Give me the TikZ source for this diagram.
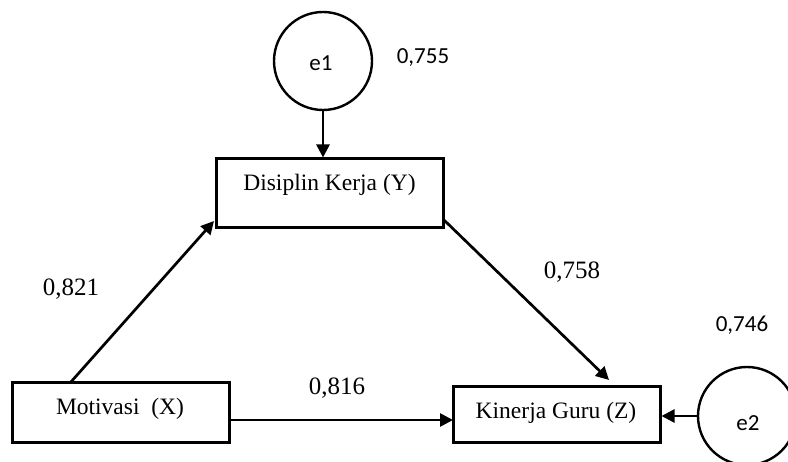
\documentclass[tikz,border=0pt]{standalone}
\usepackage{fontspec}
\setmainfont{Liberation Serif}
\newfontfamily\calfont{Carlito}
\usetikzlibrary{arrows.meta}
\begin{document}
\begin{tikzpicture}[x=1pt,y=-1pt,
  box/.style={draw, line width=3pt, rectangle, inner sep=0pt},
  boxtext/.style={font=\fontsize{23.5}{26}\selectfont, inner sep=0pt},
  err/.style={draw, line width=2.4pt, circle, minimum size=98pt, inner sep=0pt},
  coef/.style={font=\fontsize{25}{28}\selectfont, inner sep=0pt},
  coefsans/.style={font=\calfont\fontsize{23}{25}\selectfont, inner sep=0pt},
  arr/.style={line width=2.7pt, -{Triangle[length=13pt,width=13pt]}}]
\useasboundingbox (0,0) rectangle (788,462);
\clip (0,0) rectangle (788,462);
\fill[white] (0,0) rectangle (788,462);
% nodes
\node[err] (e1) at (323,61) {};
\node[coefsans] (e1t) at (321,63) {e1};
\node[box, minimum width=227pt, minimum height=69pt] (Y) at (329.5,193.5) {};
\node[boxtext] (Yt) at (329.5,185) {Disiplin Kerja (Y)};
\node[box, minimum width=217pt, minimum height=60pt] (X) at (120.5,413) {};
\node[boxtext] (Xt) at (120,409) {Motivasi~~(X)};
\node[box, minimum width=207pt, minimum height=56pt] (Z) at (556.5,415) {};
\node[boxtext] (Zt) at (556,413) {Kinerja Guru (Z)};
\node[err] (e2) at (747,416) {};
\node[coefsans] (e2t) at (748,423) {e2};
% connector endpoints
\coordinate (xs) at (70,383);
\coordinate (ye) at (214,221);
\coordinate (ys) at (444,220);
\coordinate (ze) at (609,380);
\coordinate (xr) at (229,420);
\coordinate (zl) at (453,420);
% connectors
\draw[arr] (e1.south) -- (e1.south |- Y.north);
\draw[arr] (xs) -- (ye);
\draw[arr] (ys) -- (ze);
\draw[arr] (xr) -- (zl);
\draw[arr] (e2.west) -- (e2.west -| Z.east);
% labels
\node[coef] (c821) at (71,289) {0,821};
\node[coef] (c758) at (572,272) {0,758};
\node[coef] (c816) at (337,388) {0,816};
\node[coefsans] (c755) at (423,58) {0,755};
\node[coefsans] (c746) at (742,325) {0,746};
\end{tikzpicture}
\end{document}
